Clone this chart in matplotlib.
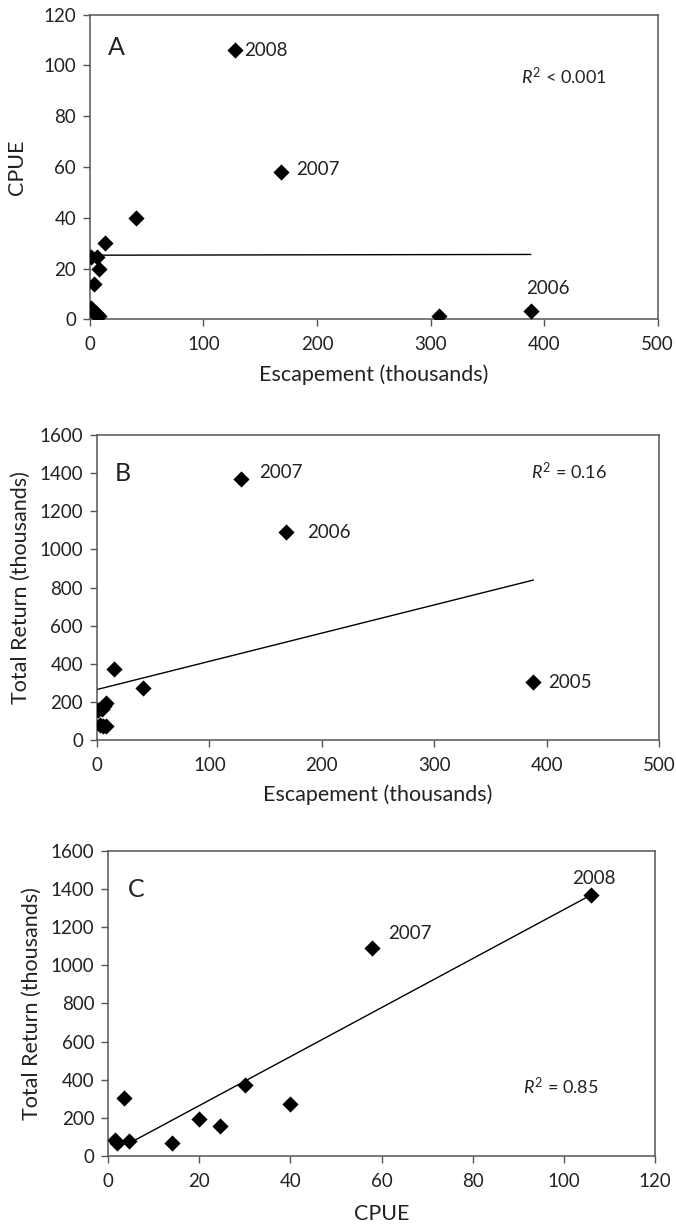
import numpy as np
import matplotlib
matplotlib.use("Agg")
import matplotlib.pyplot as plt

plt.rcParams['font.family'] = ['Lato', 'DejaVu Sans']
plt.rcParams['mathtext.fontset'] = 'custom'
plt.rcParams['mathtext.rm'] = 'Lato'
plt.rcParams['mathtext.it'] = 'Lato:italic'

# panel A: escapement vs CPUE
esc_a = [1, 6, 8, 4, 13, 41, 1, 3, 5, 8, 128, 168, 307, 388]
cpue_a = [24.5, 24.5, 20, 14, 30, 40, 4.5, 3, 2.5, 1.5, 106, 58, 1.5, 3.5]
fit_a_x = [0, 388]
fit_a_y = [25.3, 25.6]

# panel B: escapement vs total return
esc_b = [1, 3, 5, 8, 4, 6, 8, 15, 41, 128, 168, 388]
ret_b = [155, 80, 75, 75, 165, 180, 195, 370, 275, 1370, 1090, 305]
fit_b_x = [0, 388]
fit_b_y = [265, 839]

# panel C: CPUE vs total return
cpue_c = [1.5, 2, 3.5, 4.5, 14, 20, 24.5, 30, 40, 58, 106]
ret_c = [85, 70, 305, 80, 70, 195, 155, 370, 275, 1090, 1370]
fit_c_x = [4.5, 106]
fit_c_y = [65, 1370]

fs = 13.5
lfs = 15.5
fig = plt.figure(figsize=(6.76, 12.24), dpi=100)
axA = fig.add_axes([0.133, 0.739, 0.840, 0.249])
axB = fig.add_axes([0.1435, 0.3954, 0.8315, 0.2492])
axC = fig.add_axes([0.160, 0.0556, 0.809, 0.2491])

for ax in (axA, axB, axC):
    for s in ax.spines.values():
        s.set_color('#555555')
        s.set_linewidth(1.1)
    ax.tick_params(direction='out', length=5, width=1, color='#555555',
                   labelsize=fs, labelcolor='#222222')
    ax.tick_params(axis='x', pad=7)
    ax.tick_params(axis='y', pad=5)

mk = dict(marker='D', s=68, color='black', zorder=3, linewidths=0)

# A
axA.plot(fit_a_x, fit_a_y, color='black', lw=1)
axA.scatter(esc_a, cpue_a, **mk)
axA.set_xlim(0, 500)
axA.set_ylim(0, 120)
axA.set_xticks([0, 100, 200, 300, 400, 500])
axA.set_yticks([0, 20, 40, 60, 80, 100, 120])
axA.set_xlabel('Escapement (thousands)', fontsize=lfs, labelpad=8, color='#222222')
axA.set_ylabel('CPUE', fontsize=lfs, labelpad=12, color='#222222')
axA.text(16, 107, 'A', fontsize=18, va='center', color='#222222')
axA.text(136, 106, '2008', fontsize=fs, va='center', color='#222222')
axA.text(182, 59, '2007', fontsize=fs, va='center', color='#222222')
axA.text(384, 12, '2006', fontsize=fs, va='center', color='#222222')
axA.text(380, 95.7, r'$R^2$ < 0.001', fontsize=13, va='center', color='#222222')

# B
axB.plot(fit_b_x, fit_b_y, color='black', lw=1)
axB.scatter(esc_b, ret_b, **mk)
axB.set_xlim(0, 500)
axB.set_ylim(0, 1600)
axB.set_xticks([0, 100, 200, 300, 400, 500])
axB.set_yticks(range(0, 1601, 200))
axB.set_xlabel('Escapement (thousands)', fontsize=lfs, labelpad=8, color='#222222')
axB.set_ylabel('Total Return (thousands)', fontsize=lfs, labelpad=6, color='#222222')
axB.text(16, 1400, 'B', fontsize=18, va='center', color='#222222')
axB.text(144, 1405, '2007', fontsize=fs, va='center', color='#222222')
axB.text(187, 1086, '2006', fontsize=fs, va='center', color='#222222')
axB.text(401, 304, '2005', fontsize=fs, va='center', color='#222222')
axB.text(386, 1406, r'$R^2$ = 0.16', fontsize=13, va='center', color='#222222')

# C
axC.plot(fit_c_x, fit_c_y, color='black', lw=1)
axC.scatter(cpue_c, ret_c, **mk)
axC.set_xlim(0, 120)
axC.set_ylim(0, 1600)
axC.set_xticks(range(0, 121, 20))
axC.set_yticks(range(0, 1601, 200))
axC.set_xlabel('CPUE', fontsize=lfs, labelpad=10, color='#222222')
axC.set_ylabel('Total Return (thousands)', fontsize=lfs, labelpad=6, color='#222222')
axC.text(4.4, 1400, 'C', fontsize=18, va='center', color='#222222')
axC.text(61.5, 1165, '2007', fontsize=fs, va='center', color='#222222')
axC.text(106.6, 1458, '2008', fontsize=fs, va='center', ha='center', color='#222222')
axC.text(91, 367, r'$R^2$ = 0.85', fontsize=13, va='center', color='#222222')

fig.savefig('out.png', dpi=100)
